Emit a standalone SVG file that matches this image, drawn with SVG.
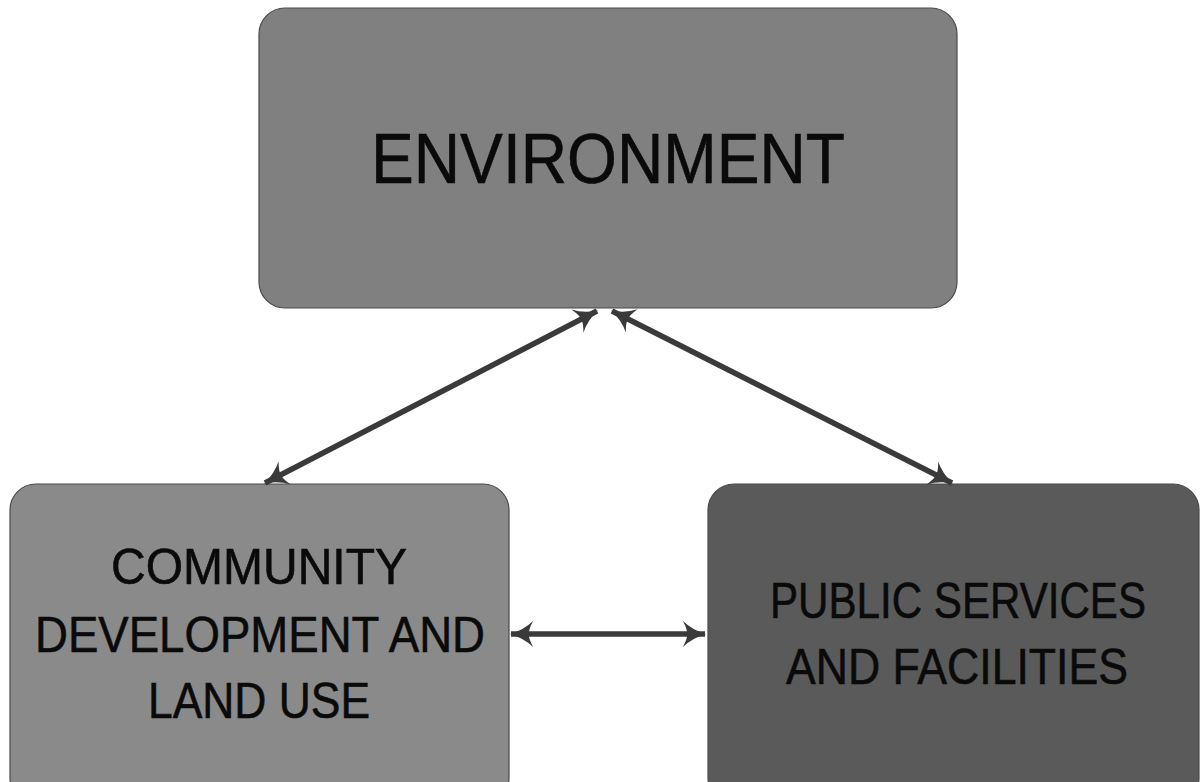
<svg xmlns="http://www.w3.org/2000/svg" width="1201" height="782" viewBox="0 0 1201 782">
  <style>
    .box { stroke: #4a4a4a; stroke-width: 1.2; }
    .label { font-family: "Liberation Sans", "DejaVu Sans", sans-serif; fill: #0a0a0a; stroke: #0a0a0a; stroke-width: 0.6; text-anchor: middle; }
    .link { stroke: #3a3a3a; stroke-width: 5.5; fill: none; marker-start: url(#head); marker-end: url(#head); }
  </style>
  <defs>
    <!-- swept arrowhead, tip at the origin pointing along +x -->
    <marker id="head" viewBox="-26 -15 28 30" refX="0" refY="0" markerWidth="28" markerHeight="30" markerUnits="userSpaceOnUse" orient="auto-start-reverse">
      <path d="M1,0 Q-13,-4 -22,-13 Q-17,-3 -18,0 Q-17,3 -22,13 Q-13,4 1,0 Z" fill="#3a3a3a"/>
    </marker>
  </defs>
  <rect width="1201" height="782" fill="#ffffff"/>

  <g id="node-environment">
    <rect class="box" x="259" y="8" width="698" height="300" rx="26" fill="#808080"/>
    <text class="label" x="608" y="183" font-size="70" textLength="474" lengthAdjust="spacingAndGlyphs">ENVIRONMENT</text>
  </g>

  <g id="node-community">
    <rect class="box" x="10" y="484" width="499" height="320" rx="26" fill="#8a8a8a"/>
    <text class="label" x="259" y="584" font-size="50" textLength="296" lengthAdjust="spacingAndGlyphs">COMMUNITY</text>
    <text class="label" x="260" y="652" font-size="50" textLength="450" lengthAdjust="spacingAndGlyphs">DEVELOPMENT AND</text>
    <text class="label" x="259" y="718" font-size="50" textLength="222" lengthAdjust="spacingAndGlyphs">LAND USE</text>
  </g>

  <g id="node-public">
    <rect class="box" x="708" y="484" width="491" height="320" rx="26" fill="#5a5a5a"/>
    <text class="label" x="958" y="618" font-size="50" textLength="376" lengthAdjust="spacingAndGlyphs">PUBLIC SERVICES</text>
    <text class="label" x="957" y="684" font-size="50" textLength="342" lengthAdjust="spacingAndGlyphs">AND FACILITIES</text>
  </g>

  <g id="connectors">
    <line class="link" x1="265" y1="483" x2="597" y2="311"/>
    <line class="link" x1="612" y1="311" x2="952" y2="483"/>
    <line class="link" x1="511" y1="634" x2="705" y2="634"/>
  </g>
</svg>
